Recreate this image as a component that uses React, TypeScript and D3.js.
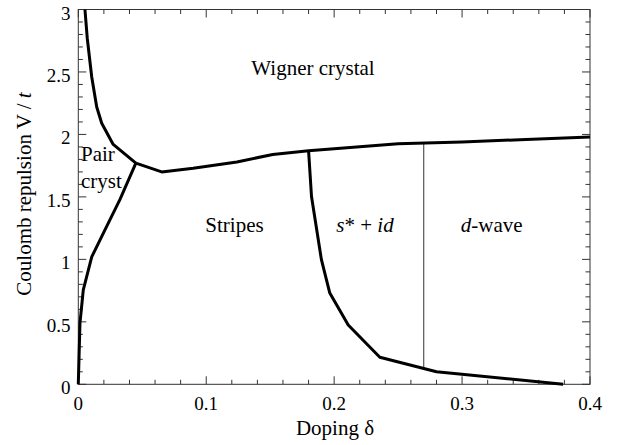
import React from "react";
import * as d3 from "d3";

// Pair-crystal upper boundary (Wigner crystal / pair crystal)
const pairTopX = [0.0052, 0.007, 0.0105, 0.0144, 0.0183, 0.0273, 0.045];
const pairTopY = [3.0, 2.77, 2.46, 2.22, 2.09, 1.92, 1.77];
// Pair-crystal lower boundary (pair crystal / stripes)
const pairBotX = [0, 0.0013, 0.0039, 0.0105, 0.022, 0.0326, 0.045];
const pairBotY = [0, 0.49, 0.756, 1.02, 1.26, 1.48, 1.77];
// Wigner crystal lower boundary
const wignerX = [0.045, 0.0652, 0.0898, 0.124, 0.152, 0.18, 0.25, 0.3, 0.35, 0.4];
const wignerY = [1.77, 1.70, 1.73, 1.78, 1.84, 1.87, 1.925, 1.94, 1.96, 1.98];
// Stripes / s*+id boundary
const stripeX = [0.18, 0.1823, 0.19, 0.1966, 0.211, 0.2357, 0.28, 0.379];
const stripeY = [1.87, 1.503, 1.0, 0.73, 0.475, 0.216, 0.10, 0.0];
// s*+id / d-wave crossover
const crossX = [0.27, 0.27];
const crossY = [0.125, 1.93];

const xTicksMajor = [0, 0.1, 0.2, 0.3, 0.4];
const xTickLabels = ["0", "0.1", "0.2", "0.3", "0.4"];
const yTicksMajor = [0, 0.5, 1, 1.5, 2, 2.5, 3];
const yTickLabels = ["0", "0.5", "1", "1.5", "2", "2.5", "3"];

const W = 618, H = 445;
const L = 78.3, R = 590, T = 9.5, B = 384.3;
const FONT = "Liberation Serif, Times New Roman, serif";

export default function App() {
  const x = d3.scaleLinear().domain([0, 0.4]).range([L, R]);
  const y = d3.scaleLinear().domain([0, 3]).range([B, T]);
  const line = d3.line<[number, number]>().x((d) => x(d[0])).y((d) => y(d[1]));
  const zip = (a: number[], b: number[]) => a.map((v, i) => [v, b[i]] as [number, number]);

  const xMinor = d3.range(0, 0.4001, 0.02);
  const yMinor = d3.range(0, 3.0001, 0.1);
  const tickColor = "#333";

  return (
    <svg
      width={W}
      height={H}
      style={{ position: "absolute", left: 0, top: 0, background: "#fff" }}
    >
      {/* ticks */}
      {xMinor.map((v, i) => {
        const major = Math.abs(Math.round(v * 10) - v * 10) < 1e-6;
        const len = major ? 8 : 4.5;
        return (
          <g key={"xm" + i} stroke={tickColor} strokeWidth={1}>
            <line x1={x(v)} x2={x(v)} y1={B} y2={B - len} />
            <line x1={x(v)} x2={x(v)} y1={T} y2={T + len} />
          </g>
        );
      })}
      {yMinor.map((v, i) => {
        const major = Math.abs(Math.round(v * 2) - v * 2) < 1e-6;
        const len = major ? 8 : 4.5;
        return (
          <g key={"ym" + i} stroke={tickColor} strokeWidth={1}>
            <line x1={L} x2={L + len} y1={y(v)} y2={y(v)} />
            <line x1={R} x2={R - len} y1={y(v)} y2={y(v)} />
          </g>
        );
      })}
      {/* frame */}
      <rect x={L} y={T} width={R - L} height={B - T} fill="none" stroke={tickColor} strokeWidth={1} />

      <g fontFamily={FONT} fill="#000">
        {/* tick labels */}
        {xTicksMajor.map((v, i) => (
          <text key={"xl" + i} x={x(v)} y={410} textAnchor="middle" fontSize={19}>
            {xTickLabels[i]}
          </text>
        ))}
        {yTicksMajor.map((v, i) => (
          <text key={"yl" + i} x={70.5} y={y(v) + 10} textAnchor="end" fontSize={19}>
            {yTickLabels[i]}
          </text>
        ))}

        {/* axis titles */}
        <text x={335} y={435} textAnchor="middle" fontSize={21}>
          Doping δ
        </text>
        <text transform={`translate(31,${194}) rotate(-90)`} textAnchor="middle" fontSize={21}>
          Coulomb repulsion V / <tspan fontStyle="italic">t</tspan>
        </text>
      </g>

      {/* crossover line */}
      <path d={line(zip(crossX, crossY)) || ""} fill="none" stroke="#555" strokeWidth={1.2} />

      {/* phase boundaries */}
      {[zip(pairTopX, pairTopY), zip(pairBotX, pairBotY), zip(wignerX, wignerY), zip(stripeX, stripeY)].map(
        (pts, i) => (
          <path
            key={"b" + i}
            d={line(pts) || ""}
            fill="none"
            stroke="#000"
            strokeWidth={3}
            strokeLinejoin="round"
          />
        )
      )}

      {/* region labels */}
      <g fontFamily={FONT} fill="#000" fontSize={21}>
        <text x={313} y={75} textAnchor="middle">
          Wigner crystal
        </text>
        <text x={81} y={161}>Pair</text>
        <text x={81} y={188}>cryst</text>
        <text x={234.5} y={231.5} textAnchor="middle">
          Stripes
        </text>
        <text x={365} y={231.5} textAnchor="middle">
          <tspan fontStyle="italic">s</tspan>* + <tspan fontStyle="italic">id</tspan>
        </text>
        <text x={491.7} y={231.5} textAnchor="middle">
          <tspan fontStyle="italic">d</tspan>-wave
        </text>
      </g>
    </svg>
  );
}
